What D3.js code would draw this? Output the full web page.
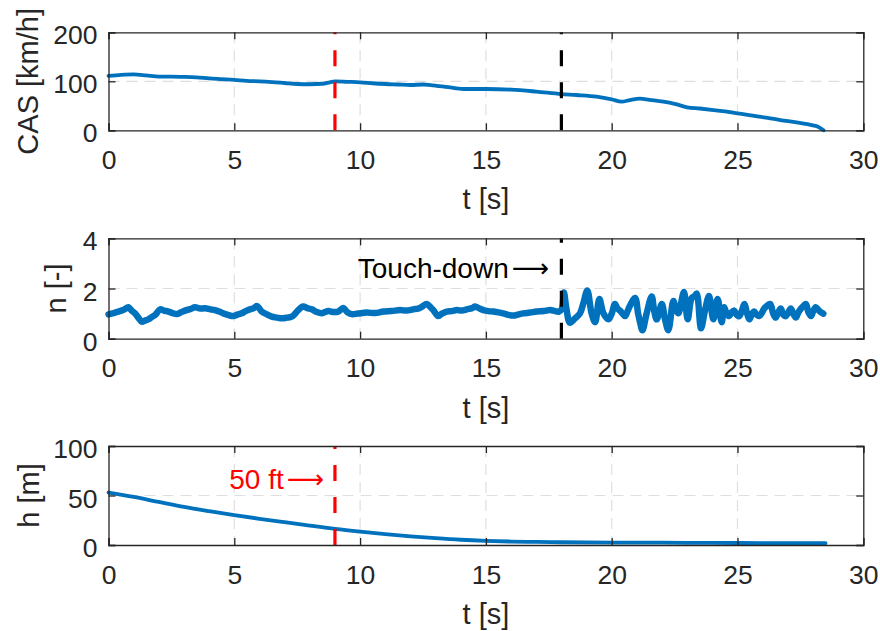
<!DOCTYPE html>
<html>
<head>
<meta charset="utf-8">
<script src="https://cdn.jsdelivr.net/npm/d3@7"></script>
<style>
  html, body { margin: 0; padding: 0; background: #fff; }
  svg { display: block; }
  text { font-family: "Liberation Sans", Arial, Helvetica, sans-serif; fill: #262626; }
</style>
</head>
<body>
<svg id="chart" width="880" height="631"></svg>
<script>
// Time ticks shared by all three panels
const tTicks = [0, 5, 10, 15, 20, 25, 30];

// Calibrated airspeed [km/h] over time [s]
const casT = [0, 0.5, 1, 1.5, 2, 2.5, 3, 3.5, 4, 4.5, 5, 5.5, 6, 6.5, 7, 7.5, 8, 8.5, 8.8, 9, 9.5, 10, 10.5, 11, 11.5, 12, 12.5, 12.8, 13.5, 14.1, 15, 16, 17, 18, 18.6, 19.4, 20, 20.4, 20.73, 21.12, 21.5, 22.05, 22.5, 23, 23.5, 24.05, 24.5, 25, 25.4, 25.85, 26.3, 26.7, 27.35, 28, 28.2, 28.42];
const casV = [111, 113, 114, 112, 109.5, 109.5, 109, 108, 106, 104.5, 103, 101, 100, 98.5, 96.5, 94.5, 94, 95, 98, 100, 99, 98, 96, 94.5, 93.5, 92.5, 93.5, 92.4, 88, 84.3, 84.3, 83, 79, 74, 72, 68.6, 63.2, 58.4, 61.8, 64.5, 62, 58.4, 54, 47, 44.5, 41.4, 38.5, 34.6, 31.5, 27.8, 24.5, 21, 16.3, 10.2, 7.4, 0];

// Load factor n [-] over time [s]
const nT = [0, 0.2, 0.39, 0.6, 0.79, 0.92, 1.05, 1.2, 1.32, 1.45, 1.58, 1.72, 1.85, 2.05, 2.2, 2.38, 2.55, 2.71, 2.88, 3.04, 3.25, 3.44, 3.65, 3.84, 4.05, 4.23, 4.4, 4.56, 4.75, 4.96, 5.12, 5.29, 5.45, 5.62, 5.78, 5.89, 6.0, 6.09, 6.3, 6.49, 6.7, 6.88, 7.1, 7.28, 7.42, 7.54, 7.74, 7.9, 8.08, 8.28, 8.47, 8.6, 8.74, 8.95, 9.13, 9.33, 9.5, 9.66, 9.9, 10.26, 10.6, 10.92, 11.25, 11.59, 11.85, 12.11, 12.3, 12.45, 12.65, 12.8, 12.91, 13.11, 13.25, 13.44, 13.65, 13.84, 14.05, 14.24, 14.45, 14.57, 14.75, 14.9, 15.1, 15.29, 15.5, 15.69, 15.9, 16.09, 16.3, 16.49, 16.75, 17.02, 17.3, 17.55, 17.75, 17.9, 18.02, 18.1, 18.2, 18.34, 18.54, 18.74, 18.87, 19.03, 19.2, 19.34, 19.51, 19.67, 19.87, 20.0, 20.13, 20.23, 20.33, 20.43, 20.53, 20.63, 20.73, 20.93, 21.05, 21.13, 21.22, 21.39, 21.59, 21.69, 21.79, 21.99, 22.12, 22.25, 22.45, 22.55, 22.65, 22.87, 23.02, 23.18, 23.3, 23.38, 23.55, 23.71, 23.87, 24.04, 24.21, 24.37, 24.47, 24.57, 24.67, 24.77, 24.87, 24.97, 25.07, 25.17, 25.27, 25.37, 25.47, 25.56, 25.66, 25.76, 25.86, 25.96, 26.06, 26.16, 26.3, 26.42, 26.52, 26.62, 26.72, 26.82, 26.92, 27.02, 27.12, 27.22, 27.32, 27.42, 27.52, 27.62, 27.72, 27.82, 27.92, 28.01, 28.11, 28.21, 28.31, 28.41, 28.5];
const nV = [0.97, 1.02, 1.08, 1.15, 1.25, 1.12, 1.01, 0.82, 0.68, 0.72, 0.77, 0.86, 0.94, 1.17, 1.12, 1.08, 1.02, 0.98, 1.05, 1.12, 1.18, 1.25, 1.2, 1.21, 1.17, 1.14, 1.08, 1.01, 0.95, 0.9, 0.96, 1.01, 1.1, 1.17, 1.22, 1.3, 1.2, 1.08, 0.97, 0.88, 0.84, 0.81, 0.84, 0.88, 1.0, 1.14, 1.28, 1.22, 1.17, 1.06, 1.01, 1.06, 1.1, 1.06, 1.08, 1.22, 1.05, 0.98, 1.0, 1.04, 1.02, 1.08, 1.1, 1.14, 1.12, 1.17, 1.2, 1.27, 1.38, 1.25, 1.14, 0.9, 1.0, 1.08, 1.1, 1.14, 1.12, 1.17, 1.22, 1.28, 1.2, 1.14, 1.1, 1.08, 1.05, 1.01, 0.95, 0.92, 0.97, 1.01, 1.04, 1.08, 1.1, 1.14, 1.1, 1.08, 1.2, 1.84, 1.2, 0.64, 0.81, 1.01, 1.4, 1.92, 1.01, 0.66, 1.58, 1.01, 0.77, 1.0, 1.38, 1.2, 1.12, 1.0, 0.9, 1.1, 1.32, 1.62, 1.0, 0.64, 0.34, 1.01, 1.68, 1.1, 0.77, 1.38, 0.77, 0.34, 1.5, 1.2, 1.01, 1.86, 0.77, 1.62, 1.7, 1.8, 0.42, 1.14, 1.7, 0.77, 1.58, 0.66, 1.25, 1.0, 0.9, 1.05, 1.12, 0.95, 0.9, 1.1, 1.38, 1.05, 0.77, 0.95, 1.08, 0.95, 0.9, 1.02, 1.2, 1.3, 1.38, 1.0, 0.84, 1.05, 1.2, 0.95, 0.9, 1.05, 1.2, 0.98, 0.84, 1.05, 1.2, 1.3, 1.38, 1.05, 0.9, 1.1, 1.25, 1.15, 1.06, 1.0];

// Height above ground [m] over time [s]
const hT = [0, 1, 2, 3, 4, 5, 6, 7, 8, 9, 10, 11, 12, 13, 14, 15, 16, 17, 18, 20, 22, 24, 26, 28.5];
const hV = [53, 48.5, 43.5, 38.5, 34.2, 30.2, 26.5, 23, 19.6, 16.3, 13.5, 11, 8.8, 6.9, 5.3, 4.2, 3.5, 3.1, 2.8, 2.5, 2.3, 2.1, 1.9, 1.8];

// Y tick labels per panel
const casTicks = [0, 100, 200];
const nTicks = [0, 2, 4];
const hTicks = [0, 50, 100];

// Event times [s]
const fiftyFtTime = 9;
const touchDownTime = 18;

const svg = d3.select("#chart");
const blue = "#0072BD";
const axisColor = "#262626";
const gridColor = "#dfdfdf";

const x = d3.scaleLinear().domain([0, 30]).range([108.5, 863.3]);

function panel(cfg) {
  const y = d3.scaleLinear().domain(cfg.domain).range([cfg.bottom, cfg.top]);
  const g = svg.append("g");
  const x0 = x.range()[0], x1 = x.range()[1];

  // dashed grid
  g.append("g").selectAll("line").data(tTicks.slice(1, -1)).join("line")
    .attr("x1", d => x(d)).attr("x2", d => x(d))
    .attr("y1", cfg.top).attr("y2", cfg.bottom)
    .attr("stroke", gridColor).attr("stroke-width", 1.2).attr("stroke-dasharray", "11 7");
  g.append("g").selectAll("line").data(cfg.ticks.slice(1, -1)).join("line")
    .attr("x1", x0).attr("x2", x1)
    .attr("y1", d => y(d)).attr("y2", d => y(d))
    .attr("stroke", gridColor).attr("stroke-width", 1.2).attr("stroke-dasharray", "11 7");

  // data line
  const line = d3.line().x((d, i) => x(cfg.t[i])).y(d => y(d)).curve(cfg.curve);
  g.append("path").datum(cfg.v)
    .attr("d", line).attr("fill", "none").attr("stroke", blue)
    .attr("stroke-width", cfg.width).attr("stroke-linejoin", "round").attr("stroke-linecap", "round");

  // event markers
  cfg.markers.forEach(m => {
    g.append("line")
      .attr("x1", x(m.t)).attr("x2", x(m.t))
      .attr("y1", cfg.bottom).attr("y2", cfg.top)
      .attr("stroke", m.color).attr("stroke-width", 3.2).attr("stroke-dasharray", "16 16");
  });

  // axes: bottom/left with labels, top/right mirror with inward ticks
  const xb = d3.axisBottom(x).tickValues(tTicks).tickSize(-7).tickPadding(18).tickFormat(d3.format("d"));
  const xt = d3.axisTop(x).tickValues(tTicks).tickSize(-7).tickFormat("");
  const yl = d3.axisLeft(y).tickValues(cfg.ticks).tickSize(-7).tickPadding(18).tickFormat(d3.format("d"));
  const yr = d3.axisRight(y).tickValues(cfg.ticks).tickSize(-7).tickFormat("");

  const style = sel => {
    sel.selectAll("path.domain").attr("stroke", axisColor).attr("stroke-width", 1.3);
    sel.selectAll(".tick line").attr("stroke", axisColor).attr("stroke-width", 1.3);
    sel.selectAll(".tick text").attr("fill", axisColor).style("font-size", "26.5px")
      .style("font-family", '"Liberation Sans", Arial, sans-serif');
  };
  g.append("g").attr("transform", `translate(0,${cfg.bottom})`).call(xb).call(style)
    .call(s => s.selectAll(".tick text").attr("dy", null).attr("y", 38.5));
  g.append("g").attr("transform", `translate(0,${cfg.top})`).call(xt).call(style);
  g.append("g").attr("transform", `translate(${x0},0)`).call(yl).call(style)
    .call(s => s.selectAll(".tick text").attr("dy", null).attr("y", 11.5).attr("x", -11));
  g.append("g").attr("transform", `translate(${x1},0)`).call(yr).call(style);

  // axis labels
  g.append("text").attr("x", (x0 + x1) / 2).attr("y", cfg.bottom + 79)
    .attr("text-anchor", "middle").style("font-size", "29px").text("t [s]");
  g.append("text")
    .attr("transform", `translate(${cfg.labelX},${(cfg.top + cfg.bottom) / 2}) rotate(-90)`)
    .attr("text-anchor", "middle").style("font-size", "29px").text(cfg.label);

  return { g, y };
}

panel({
  t: casT, v: casV, domain: [0, 200], ticks: casTicks, top: 32.3, bottom: 130.3,
  label: "CAS [km/h]", labelX: 37.5, width: 3.8, curve: d3.curveMonotoneX,
  markers: [{ t: fiftyFtTime, color: "#ff0000" }, { t: touchDownTime, color: "#000000" }]
});

const mid = panel({
  t: nT, v: nV, domain: [0, 4], ticks: nTicks, top: 238.3, bottom: 338.7,
  label: "n [-]", labelX: 65.5, width: 6.5, curve: d3.curveCatmullRom,
  markers: [{ t: touchDownTime, color: "#000000" }]
});

const low = panel({
  t: hT, v: hV, domain: [0, 100], ticks: hTicks, top: 446, bottom: 545,
  label: "h [m]", labelX: 38.5, width: 3.8, curve: d3.curveMonotoneX,
  markers: [{ t: fiftyFtTime, color: "#ff0000" }]
});

// annotations
function note(g, xEnd, yBase, label, color) {
  const t = g.append("text").attr("x", xEnd).attr("y", yBase)
    .attr("text-anchor", "end").style("font-size", "28px").style("fill", color);
  t.append("tspan").text(label);
  t.append("tspan").style("font-family", '"DejaVu Sans", sans-serif')
    .style("font-size", "26px").attr("dx", 3).attr("dy", -1).text("\u27F6");
}
note(mid.g, 549, 277.5, "Touch-down", "#000000");
note(low.g, 324, 489, "50 ft", "#ff0000");
</script>
</body>
</html>
